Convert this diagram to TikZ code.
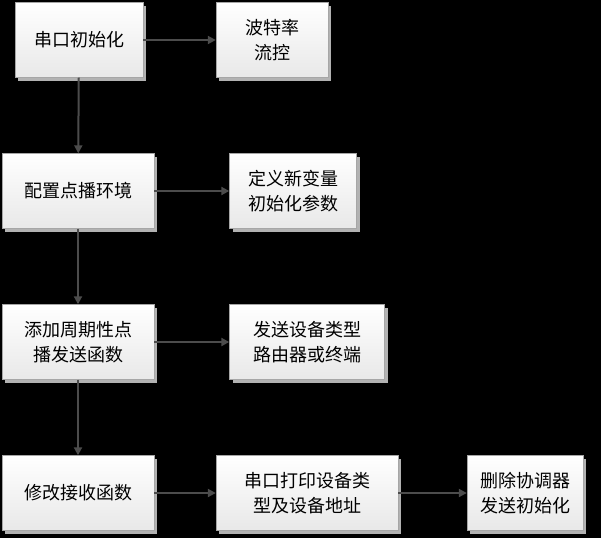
\documentclass[tikz,border=0pt]{standalone}
\usepackage{fontspec}
\setmainfont{Noto Sans CJK SC}
\usetikzlibrary{arrows.meta,shadows}

\begin{document}
\begin{tikzpicture}[x=1pt,y=-1pt,>={Triangle[length=8pt,width=8pt]},
  box/.style={rectangle,draw=gray!70,top color=white,bottom color=gray!18,
  drop shadow={shadow xshift=3pt,shadow yshift=-3pt,fill=gray!60,opacity=1},
  font=\fontsize{18}{25}\selectfont,align=center,inner sep=0pt},
  link/.style={->,draw=black!70,line width=2pt}]

  \fill[black] (0,0) rectangle (601,538);

  \node[box,minimum width=128pt,minimum height=75pt] (init) at (79,40) {串口初始化};
  \node[box,minimum width=112pt,minimum height=75pt] (baud) at (272,40) {波特率\\流控};
  \node[box,minimum width=152pt,minimum height=75pt] (env) at (78,191) {配置点播环境};
  \node[box,minimum width=127pt,minimum height=75pt] (var) at (293,191) {定义新变量\\初始化参数};
  \node[box,minimum width=152pt,minimum height=75pt] (send) at (78,342) {添加周期性点\\播发送函数};
  \node[box,minimum width=155pt,minimum height=75pt] (type) at (307,342) {发送设备类型\\路由器或终端};
  \node[box,minimum width=152pt,minimum height=75pt] (recv) at (78,493) {修改接收函数};
  \node[box,minimum width=182pt,minimum height=75pt] (print) at (307,493) {串口打印设备类\\型及设备地址};
  \node[box,minimum width=116pt,minimum height=75pt] (del) at (525,493) {删除协调器\\发送初始化};

  % main column
  \draw[link] (init) -- (env);
  \draw[link] (env) -- (send);
  \draw[link] (send) -- (recv);

  % side branches
  \draw[link] (init) -- (baud);
  \draw[link] (env) -- (var);
  \draw[link] (send) -- (type);
  \draw[link] (recv) -- (print);
  \draw[link] (print) -- (del);
\end{tikzpicture}
\end{document}
